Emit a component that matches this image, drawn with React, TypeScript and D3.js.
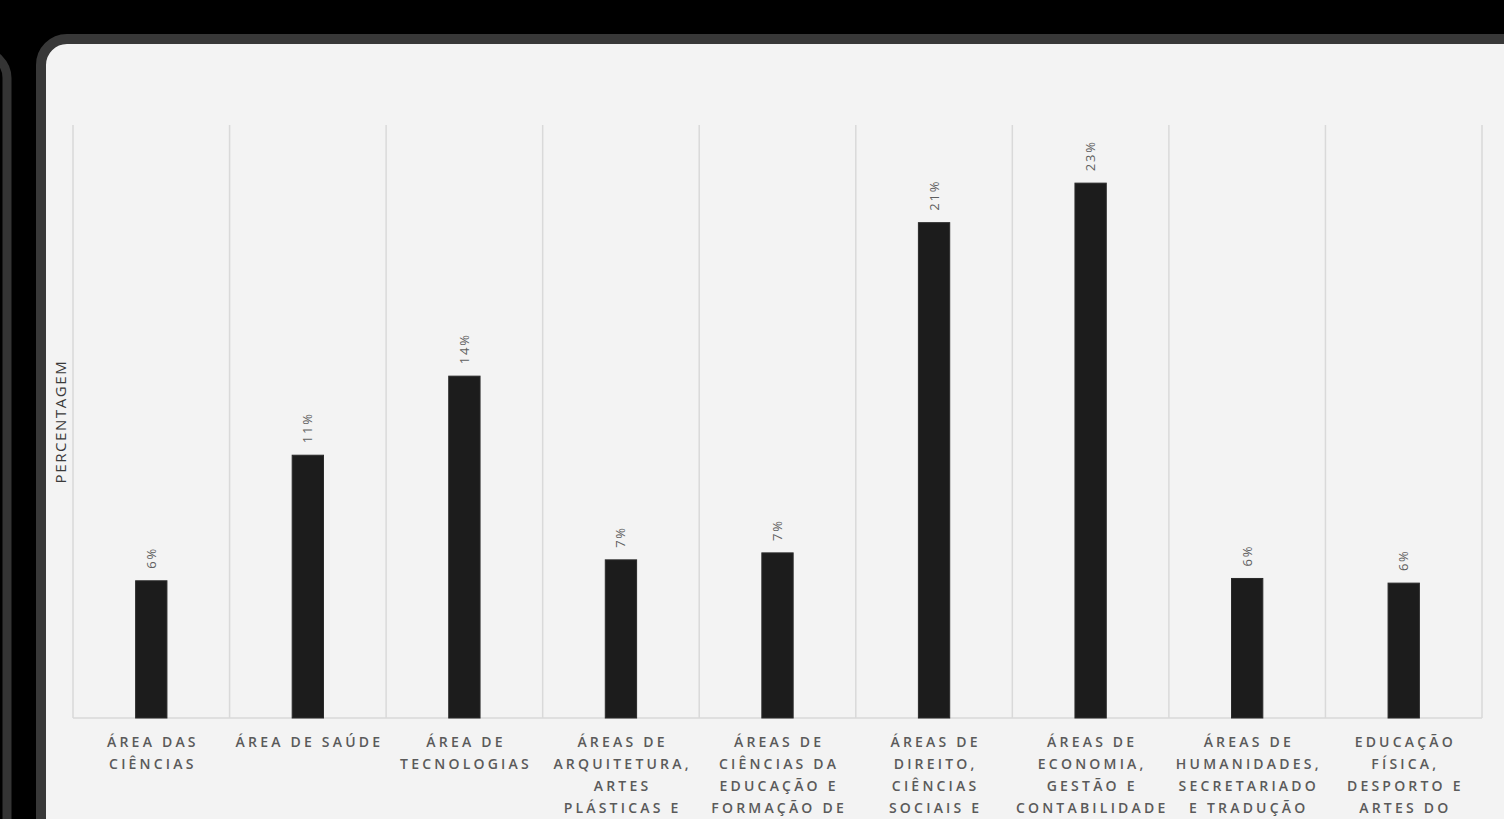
import * as d3 from 'd3'

// category labels, already broken into lines as in the picture
const categories: string[][] = [
  ['ÁREA DAS', 'CIÊNCIAS'],
  ['ÁREA DE SAÚDE'],
  ['ÁREA DE', 'TECNOLOGIAS'],
  ['ÁREAS DE', 'ARQUITETURA,', 'ARTES', 'PLÁSTICAS E', 'DESIGN'],
  ['ÁREAS DE', 'CIÊNCIAS DA', 'EDUCAÇÃO E', 'FORMAÇÃO DE', 'PROFESSORES'],
  ['ÁREAS DE', 'DIREITO,', 'CIÊNCIAS', 'SOCIAIS E', 'SERVIÇOS'],
  ['ÁREAS DE', 'ECONOMIA,', 'GESTÃO E', 'CONTABILIDADE'],
  ['ÁREAS DE', 'HUMANIDADES,', 'SECRETARIADO', 'E TRADUÇÃO'],
  ['EDUCAÇÃO', 'FÍSICA,', 'DESPORTO E', 'ARTES DO', 'ESPETÁCULO'],
]

const values = [5.9, 11.3, 14.7, 6.8, 7.1, 21.3, 23.0, 6.0, 5.8]
const valueLabels = ['6%', '11%', '14%', '7%', '7%', '21%', '23%', '6%', '6%']

const W = 1504
const H = 819
const margin = { top: 125, right: 22, bottom: 101, left: 73 }

export default function App() {
  const x = d3
    .scaleBand<number>()
    .domain(values.map((_, i) => i))
    .range([margin.left, W - margin.right])
    .padding(0)
  const y = d3.scaleLinear().domain([0, 25.5]).range([H - margin.bottom, margin.top])

  const bw = x.bandwidth() * 0.2
  const gridX = [...values.map((_, i) => x(i)!), W - margin.right]
  const font = '"Open Sans", "Noto Sans", sans-serif'
  const catSpacing = 3.2

  return (
    <div style={{ position: 'fixed', left: 0, top: 0, width: W, height: H, background: '#000' }}>
      <svg width={W} height={H} style={{ display: 'block' }}>
        {/* neighbouring panel on the left */}
        <rect x={-120} y={52} width={127} height={900} rx={26} fill="#000" stroke="#343434" strokeWidth={9} />
        {/* main panel */}
        <rect x={41} y={39} width={1500} height={900} rx={26} fill="#f3f3f3" stroke="#383838" strokeWidth={10} />

        {/* gridlines */}
        {gridX.map((gx, i) => (
          <line key={i} x1={gx} x2={gx} y1={margin.top} y2={y(0)} stroke="#d9d9d9" strokeWidth={1.5} />
        ))}
        <line x1={margin.left} x2={W - margin.right} y1={y(0)} y2={y(0)} stroke="#d9d9d9" strokeWidth={1.5} />

        {/* bars */}
        {values.map((v, i) => (
          <rect
            key={i}
            x={x(i)! + x.bandwidth() / 2 - bw / 2}
            y={y(v)}
            width={bw}
            height={y(0) - y(v)}
            fill="#1c1c1c"
            stroke="#2a2a2a"
            strokeWidth={1}
          />
        ))}

        {/* value labels, rotated */}
        {values.map((v, i) => {
          const cx = x(i)! + x.bandwidth() / 2
          const cy = y(v) - 12
          return (
            <text
              key={i}
              transform={`translate(${cx + 4.5},${cy}) rotate(-90)`}
              fontFamily={font}
              fontSize={13}
              letterSpacing={1.8}
              fill="#5f5f5f"
            >
              {valueLabels[i]}
            </text>
          )
        })}

        {/* category labels */}
        {categories.map((lines, i) => (
          <text
            key={i}
            x={x(i)! + x.bandwidth() / 2}
            y={747}
            textAnchor="middle"
            fontFamily={font}
            fontSize={14}
            fontWeight={600}
            letterSpacing={catSpacing}
            fill="#5a5a5a"
          >
            {lines.map((l, j) => (
              <tspan key={j} x={x(i)! + x.bandwidth() / 2 + catSpacing / 2} dy={j === 0 ? 0 : 22}>
                {l}
              </tspan>
            ))}
          </text>
        ))}

        {/* y axis title */}
        <text
          transform={`translate(66,${(margin.top + y(0)) / 2}) rotate(-90)`}
          textAnchor="middle"
          fontFamily={font}
          fontSize={15}
          fontWeight={500}
          letterSpacing={1.6}
          fill="#3a3a3a"
        >
          PERCENTAGEM
        </text>
      </svg>
    </div>
  )
}
